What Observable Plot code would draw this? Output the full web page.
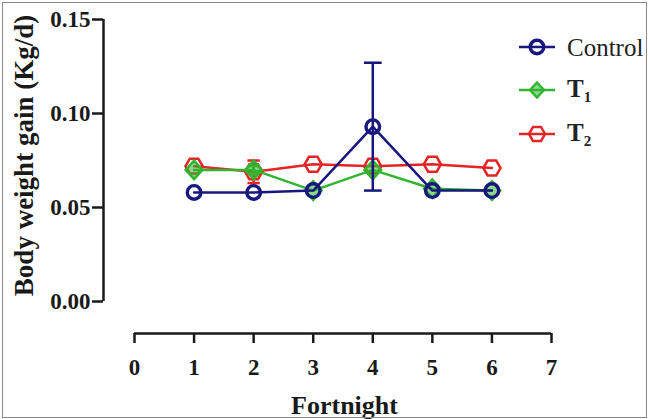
<!DOCTYPE html>
<html>
<head>
<meta charset="utf-8">
<script src="https://cdn.jsdelivr.net/npm/d3@7"></script>
<script src="https://cdn.jsdelivr.net/npm/@observablehq/plot@0.6"></script>
<style>
  html, body { margin: 0; padding: 0; background: #fff; }
  #wrap { position: relative; width: 648px; height: 419px; overflow: hidden; background: #fff; }
  #border { position: absolute; left: 2px; top: 2px; right: 1px; bottom: 1px; border: 1.5px solid #8a8a8a; pointer-events: none; }
  #legend { position: absolute; left: 0; top: 0; font-family: "Liberation Serif", "Times New Roman", serif; color: #222; }
  .item { position: absolute; display: flex; align-items: center; height: 30px; white-space: nowrap; }
  .item svg { margin-right: 11px; }
  .lab { font-size: 25px; line-height: 1; }
  .b { font-weight: bold; }
  .lab sub { font-size: 15px; vertical-align: -5px; }
</style>
</head>
<body>
<div id="wrap"><div id="chart"></div><div id="legend"></div><div id="border"></div></div>
<script>
// ---- data ----
const fortnights = [1, 2, 3, 4, 5, 6];
const controlValues = [0.058, 0.058, 0.059, 0.093, 0.059, 0.059];
const t1Values      = [0.070, 0.070, 0.059, 0.070, 0.060, 0.059];
const t2Values      = [0.072, 0.069, 0.073, 0.072, 0.073, 0.071];
const controlErr = [0, 0, 0, 0.034, 0, 0];
const t1Err      = [0, 0.002, 0, 0, 0, 0];
const t2Err      = [0, 0.006, 0, 0, 0, 0];
const seriesNames = ["T2", "T1", "Control"];
const xTicks = [0, 1, 2, 3, 4, 5, 6, 7];
const yTicks = [0, 0.05, 0.10, 0.15];

const colors = {Control: "#17177f", T1: "#2fb52f", T2: "#e52525"};

// custom symbols
const hexFlat = {
  draw(ctx, size) {
    const r = Math.sqrt(size / (3 * Math.sqrt(3) / 2));
    for (let i = 0; i < 6; i++) {
      const a = Math.PI / 3 * i;
      const x = r * Math.cos(a), y = r * Math.sin(a);
      if (i === 0) ctx.moveTo(x, y); else ctx.lineTo(x, y);
    }
    ctx.closePath();
  }
};
const diamondSym = {
  draw(ctx, size) {
    const r = Math.sqrt(size / 2);
    ctx.moveTo(0, -r * 1.05); ctx.lineTo(r * 0.95, 0); ctx.lineTo(0, r * 1.05); ctx.lineTo(-r * 0.95, 0); ctx.closePath();
  }
};
const capSym = {
  draw(ctx, size) {
    const w = Math.sqrt(size) / 2;
    ctx.moveTo(-w, 0); ctx.lineTo(w, 0);
  }
};

const rows = [];
const valuesBy = {Control: controlValues, T1: t1Values, T2: t2Values};
const errBy = {Control: controlErr, T1: t1Err, T2: t2Err};
for (const s of seriesNames) {
  fortnights.forEach((f, i) => rows.push({series: s, x: f, y: valuesBy[s][i], e: errBy[s][i]}));
}
const errRows = rows.filter(d => d.e > 0);

const font = '"Liberation Serif", "Times New Roman", serif';
const ink = "#1a1a1a";
const marks = [];
// axis lines
marks.push(Plot.ruleY([0], {x1: 0, x2: 7, dy: 32, stroke: ink, strokeWidth: 2.5}));
marks.push(Plot.ruleX([0], {y1: 0, y2: 0.15, dx: -31, stroke: ink, strokeWidth: 2.5}));
marks.push(Plot.axisY({ticks: yTicks, tickFormat: d3.format(".2f"), tickSize: 11, tickPadding: 2, strokeWidth: 2.5, stroke: ink,
  fontSize: 23, fontWeight: "bold", fontFamily: font, fill: ink, label: null}));
marks.push(Plot.axisX({ticks: xTicks, tickFormat: d3.format("d"), tickSize: 10, tickPadding: 15, strokeWidth: 2.5, stroke: ink,
  fontSize: 23, fontWeight: "bold", fontFamily: font, fill: ink, label: null}));
marks.push(Plot.text(["Body weight gain (Kg/d)"], {frameAnchor: "left", textAnchor: "middle", lineAnchor: "middle", rotate: -90,
  dx: -79, dy: -21, fontSize: 27, fontWeight: "bold", fontFamily: font, fill: ink}));
marks.push(Plot.text(["Fortnight"], {frameAnchor: "bottom", textAnchor: "middle", lineAnchor: "bottom", dx: 17, dy: 80,
  fontSize: 26, fontWeight: "bold", fontFamily: font, fill: ink}));

for (const s of seriesNames) {
  const data = rows.filter(d => d.series === s);
  const err = errRows.filter(d => d.series === s);
  const c = colors[s];
  const capR = s === "Control" ? 10 : 7;
  marks.push(Plot.line(data, {x: "x", y: "y", stroke: c, strokeWidth: 2.5}));
  marks.push(Plot.ruleX(err, {x: "x", y1: d => d.y - d.e, y2: d => d.y + d.e, stroke: c, strokeWidth: 2.5}));
  marks.push(Plot.dot(err, {x: "x", y: d => d.y + d.e, symbol: capSym, r: capR, stroke: c, strokeWidth: 2.5}));
  marks.push(Plot.dot(err, {x: "x", y: d => d.y - d.e, symbol: capSym, r: capR, stroke: c, strokeWidth: 2.5}));
  if (s === "Control") marks.push(Plot.dot(data, {x: "x", y: "y", symbol: "circle", r: 6.8, stroke: c, strokeWidth: 3.4, fill: "none"}));
  if (s === "T1") marks.push(Plot.dot(data, {x: "x", y: "y", symbol: diamondSym, r: 7, stroke: c, strokeWidth: 2.5, fill: c, fillOpacity: 0.55}));
  if (s === "T2") marks.push(Plot.dot(data, {x: "x", y: "y", symbol: hexFlat, r: 7.8, stroke: c, strokeWidth: 2.5, fill: "none"}));
}

const chart = Plot.plot({
  width: 648, height: 419,
  marginLeft: 103, marginRight: 97, marginTop: 19, marginBottom: 86,
  x: {domain: [0, 7], range: [134, 551]},
  y: {domain: [0, 0.15], range: [301, 19]},
  style: {background: "transparent", overflow: "visible"},
  marks
});
document.getElementById("chart").appendChild(chart);

// legend
const legendItems = [
  {key: "Control", top: 32, html: '<span class="lab">Control</span>'},
  {key: "T1", top: 75, html: '<span class="lab b">T<sub>1</sub></span>'},
  {key: "T2", top: 119, html: '<span class="lab b">T<sub>2</sub></span>'}
];
const sym = {
  Control: c => `<circle cx="19" cy="11" r="6.8" fill="none" stroke="${c}" stroke-width="3.4"/>`,
  T1: c => `<path d="M19,3.5 L26,11 L19,18.5 L12,11 Z" fill="${c}" fill-opacity="0.55" stroke="${c}" stroke-width="2.5"/>`,
  T2: c => `<path d="M27,11 L23,4 L15,4 L11,11 L15,18 L23,18 Z" fill="none" stroke="${c}" stroke-width="2.5"/>`
};
const leg = document.getElementById("legend");
leg.innerHTML = legendItems.map(it => {
  const c = colors[it.key];
  return `<div class="item" style="left:518px;top:${it.top}px"><svg width="38" height="22"><line x1="1" y1="11" x2="37" y2="11" stroke="${c}" stroke-width="2.5"/>${sym[it.key](c)}</svg>${it.html}</div>`;
}).join("");
</script>
</body>
</html>
